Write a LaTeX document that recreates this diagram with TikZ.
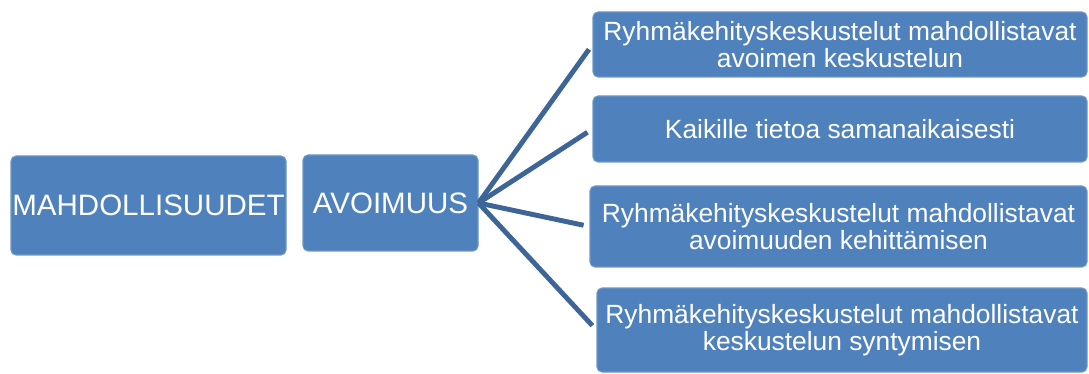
\documentclass[tikz,border=0pt]{standalone}
\usepackage{fontspec}
\setmainfont{Liberation Sans}
\definecolor{boxblue}{RGB}{79,129,189}
\definecolor{boxedge}{RGB}{110,150,200}
\definecolor{linkblue}{RGB}{62,101,152}

\begin{document}
\begin{tikzpicture}[
    box/.style={draw=boxedge, line width=0.6pt, fill=boxblue, rounded corners=0.1cm,
                text=white, align=center, inner sep=0pt},
    bigbox/.style={box, font=\fontsize{16.8}{19}\selectfont},
    leafbox/.style={box, font=\fontsize{15}{15.6}\selectfont},
    link/.style={draw=linkblue, line width=2.8pt, shorten >=0.12cm}
  ]
  \useasboundingbox (0,0) rectangle (21.78,-7.48);

  \node[bigbox, minimum width=5.5cm, minimum height=1.98cm] (mahd) at (2.97,-4.11) {MAHDOLLISUUDET};
  \node[bigbox, minimum width=3.5cm, minimum height=1.92cm] (avoim) at (7.81,-4.06) {AVOIMUUS};

  \node[leafbox, minimum width=9.88cm, minimum height=1.3cm] (keskustelu) at (16.8,-0.89)
    {Ryhmäkehityskeskustelut mahdollistavat\\avoimen keskustelun};
  \node[leafbox, minimum width=9.88cm, minimum height=1.32cm] (tieto) at (16.8,-2.58)
    {Kaikille tietoa samanaikaisesti};
  \node[leafbox, minimum width=9.94cm, minimum height=1.62cm] (kehitys) at (16.77,-4.53)
    {Ryhmäkehityskeskustelut mahdollistavat\\avoimuuden kehittämisen};
  \node[leafbox, minimum width=9.8cm, minimum height=1.68cm] (synty) at (16.84,-6.6)
    {Ryhmäkehityskeskustelut mahdollistavat\\keskustelun syntymisen};

  \foreach \leaf in {keskustelu,tieto,kehitys,synty}{
    \draw[link] (avoim.east) -- (\leaf.west);
  }
\end{tikzpicture}
\end{document}
